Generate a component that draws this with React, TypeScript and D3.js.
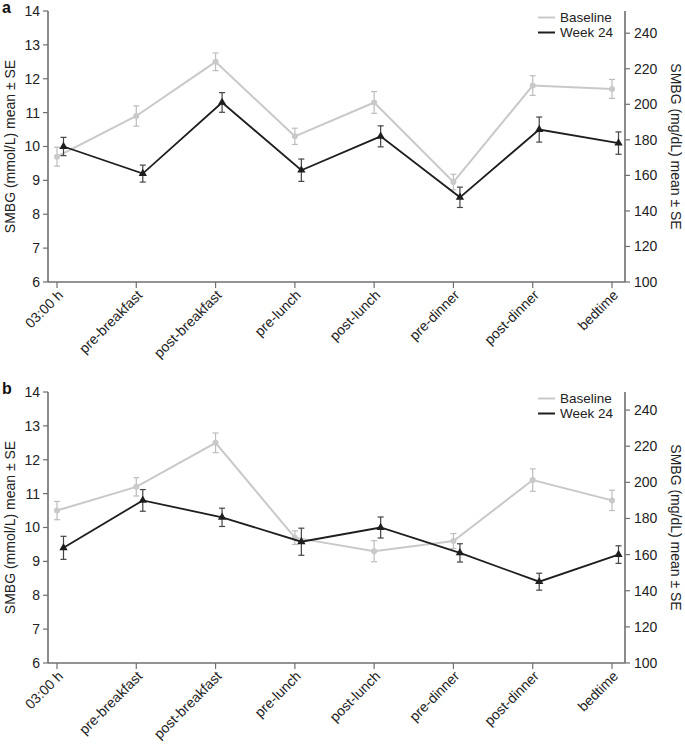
import React from "react";
import * as d3 from "d3";

const categories = ["03:00 h", "pre-breakfast", "post-breakfast", "pre-lunch", "post-lunch", "pre-dinner", "post-dinner", "bedtime"];
const leftTicks = [6, 7, 8, 9, 10, 11, 12, 13, 14];
const rightTicks = [100, 120, 140, 160, 180, 200, 220, 240];

const baselineA = [9.7, 10.9, 12.5, 10.3, 11.3, 8.95, 11.8, 11.7];
const baselineAse = [0.28, 0.3, 0.26, 0.24, 0.32, 0.23, 0.29, 0.28];
const week24A = [10.0, 9.2, 11.3, 9.3, 10.3, 8.5, 10.5, 10.1];
const week24Ase = [0.27, 0.25, 0.29, 0.33, 0.31, 0.3, 0.37, 0.33];

const baselineB = [10.5, 11.2, 12.5, 9.7, 9.3, 9.6, 11.4, 10.8];
const baselineBse = [0.27, 0.27, 0.29, 0.2, 0.31, 0.22, 0.33, 0.3];
const week24B = [9.4, 10.8, 10.3, 9.58, 10.0, 9.25, 8.4, 9.2];
const week24Bse = [0.34, 0.32, 0.27, 0.4, 0.31, 0.27, 0.25, 0.26];

const FONT = "'Liberation Sans', Arial, Helvetica, sans-serif";
const AXIS = "#6f6f6f";
const BASE_COL = "#c9c9c9";
const WEEK_COL = "#1e1e1e";

type PanelProps = {
  top: number;
  letter: string;
  base: number[];
  baseSe: number[];
  week: number[];
  weekSe: number[];
  rightMax: number;
};

function Panel({ top, letter, base, baseSe, week, weekSe, rightMax }: PanelProps) {
  const x0 = 48;
  const x1 = 625;
  const yTop = top + 11;
  const yBot = top + 282;
  const y = d3.scaleLinear().domain([6, 14]).range([yBot, yTop]);
  const yr = d3.scaleLinear().domain([100, rightMax]).range([yBot, yTop]);
  const x = d3.scalePoint<string>().domain(categories).range([57, 612]);
  const off = 6.5;
  const line = d3
    .line<number>()
    .x((_, i) => x(categories[i]) as number)
    .y((d) => y(d));
  const lineW = d3
    .line<number>()
    .x((_, i) => (x(categories[i]) as number) + off)
    .y((d) => y(d));
  const tri = d3.symbol().type(d3.symbolTriangle).size(30)() as string;
  const cap = 3;

  return (
    <g fontFamily={FONT}>
      <text x={2} y={top + 13} fontSize={16} fontWeight="bold" fill="#111">
        {letter}
      </text>
      {/* axes */}
      <line x1={x0} x2={x0} y1={yTop} y2={yBot} stroke={AXIS} strokeWidth={1.6} />
      <line x1={x1} x2={x1} y1={yTop} y2={yBot} stroke={AXIS} strokeWidth={1.6} />
      <line x1={x0} x2={x1} y1={yBot} y2={yBot} stroke={AXIS} strokeWidth={1.6} />
      {leftTicks.map((t) => (
        <g key={"l" + t}>
          <line x1={x0 - 5} x2={x0} y1={y(t)} y2={y(t)} stroke={AXIS} strokeWidth={1.2} />
          <text x={40} y={y(t)} dy="0.35em" textAnchor="end" fontSize={14} fill="#222">
            {t}
          </text>
        </g>
      ))}
      {rightTicks.map((t) => (
        <g key={"r" + t}>
          <line x1={x1} x2={x1 + 5} y1={yr(t)} y2={yr(t)} stroke={AXIS} strokeWidth={1.2} />
          <text x={634} y={yr(t)} dy="0.35em" textAnchor="start" fontSize={14} fill="#222">
            {t}
          </text>
        </g>
      ))}
      {categories.map((c) => (
        <g key={c}>
          <line x1={x(c)} x2={x(c)} y1={yBot} y2={yBot + 6} stroke={AXIS} strokeWidth={1.2} />
          <text
            transform={`translate(${(x(c) as number) + 7},${yBot + 14}) rotate(-45)`}
            textAnchor="end"
            fontSize={14}
            fill="#222"
          >
            {c}
          </text>
        </g>
      ))}
      <text
        transform={`translate(15,${(yTop + yBot) / 2}) rotate(-90)`}
        textAnchor="middle"
        fontSize={14}
        fill="#222"
      >
        SMBG (mmol/L) mean ± SE
      </text>
      <text
        transform={`translate(671,${(yTop + yBot) / 2}) rotate(90)`}
        textAnchor="middle"
        fontSize={14}
        fill="#222"
      >
        SMBG (mg/dL) mean ± SE
      </text>
      {/* legend */}
      <line x1={538} x2={555} y1={top + 17.5} y2={top + 17.5} stroke={BASE_COL} strokeWidth={2} />
      <text x={560} y={top + 17.5} dy="0.35em" fontSize={13.5} fill="#222">
        Baseline
      </text>
      <line x1={538} x2={555} y1={top + 32.5} y2={top + 32.5} stroke={WEEK_COL} strokeWidth={2} />
      <text x={560} y={top + 32.5} dy="0.35em" fontSize={13.5} fill="#222">
        Week 24
      </text>
      {/* baseline series */}
      {base.map((v, i) => {
        const cx = x(categories[i]) as number;
        return (
          <g key={"be" + i} stroke="#bdbdbd" strokeWidth={1.2}>
            <line x1={cx} x2={cx} y1={y(v - baseSe[i])} y2={y(v + baseSe[i])} />
            <line x1={cx - cap} x2={cx + cap} y1={y(v - baseSe[i])} y2={y(v - baseSe[i])} />
            <line x1={cx - cap} x2={cx + cap} y1={y(v + baseSe[i])} y2={y(v + baseSe[i])} />
          </g>
        );
      })}
      <path d={line(base) as string} fill="none" stroke={BASE_COL} strokeWidth={2} />
      {base.map((v, i) => (
        <circle key={"bc" + i} cx={x(categories[i]) as number} cy={y(v)} r={3} fill={BASE_COL} />
      ))}
      {/* week 24 series */}
      {week.map((v, i) => {
        const cx = (x(categories[i]) as number) + off;
        return (
          <g key={"we" + i} stroke="#444" strokeWidth={1.2}>
            <line x1={cx} x2={cx} y1={y(v - weekSe[i])} y2={y(v + weekSe[i])} />
            <line x1={cx - cap} x2={cx + cap} y1={y(v - weekSe[i])} y2={y(v - weekSe[i])} />
            <line x1={cx - cap} x2={cx + cap} y1={y(v + weekSe[i])} y2={y(v + weekSe[i])} />
          </g>
        );
      })}
      <path d={lineW(week) as string} fill="none" stroke={WEEK_COL} strokeWidth={1.8} />
      {week.map((v, i) => (
        <path
          key={"wt" + i}
          d={tri}
          transform={`translate(${(x(categories[i]) as number) + off},${y(v)})`}
          fill={WEEK_COL}
        />
      ))}
    </g>
  );
}

export default function App() {
  return (
    <svg
      width={685}
      height={746}
      style={{ position: "absolute", left: 0, top: 0, background: "#fff" }}
    >
      <rect width={685} height={746} fill="#fff" />
      <Panel top={0} letter="a" base={baselineA} baseSe={baselineAse} week={week24A} weekSe={week24Ase} rightMax={252.5} />
      <Panel top={381} letter="b" base={baselineB} baseSe={baselineBse} week={week24B} weekSe={week24Bse} rightMax={250} />
    </svg>
  );
}
